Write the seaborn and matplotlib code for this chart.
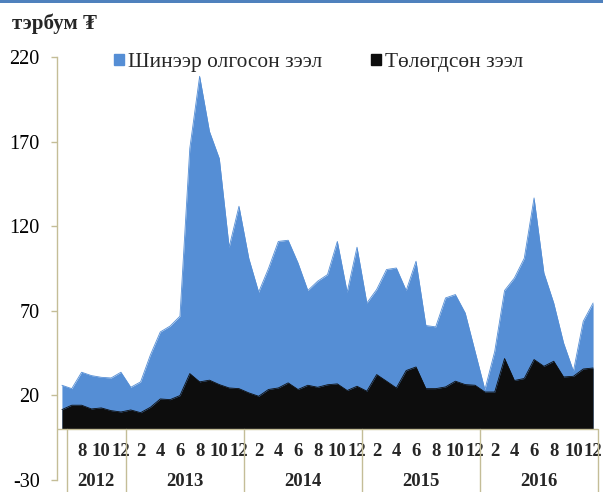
import pandas as pd
import matplotlib
matplotlib.use('Agg')
import matplotlib.pyplot as plt
from matplotlib.patches import Patch, Rectangle
import seaborn as sns

# monthly data, 2012-06 .. 2016-12 (billion MNT)
months = pd.date_range('2012-06-01', periods=55, freq='MS')
new_loans = [26, 24, 33.7, 31.7, 30.7, 30.3, 33.7, 24.8, 28, 44, 57.5, 61, 66.8,
             166, 208.6, 176, 160, 107.6, 131.8, 101, 81, 95, 111, 111.7, 98.3,
             82, 87.5, 91.4, 111, 81, 107.6, 74.6, 82.6, 94.4, 95.3, 82, 99.3,
             61.3, 60.5, 77.6, 79.6, 68.7, 46, 23.4, 46, 82, 89.4, 101, 136.7,
             92.4, 74.6, 51, 34.3, 63.8, 74.6]
repaid = [11.6, 14.2, 14.2, 12, 12.6, 11, 10.2, 11.4, 9.8, 13, 17.9, 17.5, 19.9,
          32.9, 28, 29, 26.4, 24.4, 24, 21.5, 19.5, 23.5, 24.4, 27.4, 23.5, 26,
          24.8, 26.3, 26.8, 22.9, 25.4, 22.5, 32.3, 28.4, 24.4, 34.7, 36.8, 24,
          24, 25, 28.4, 26.4, 26, 22, 22, 41.8, 28.8, 30, 41.2, 37.2, 40.2, 30.9,
          31.3, 35.6, 36.2]
series_names = ['Шинээр олгосон зээл', 'Төлөгдсөн зээл']
y_ticks = [-30, 20, 70, 120, 170, 220]
years = ['2012', '2013', '2014', '2015', '2016']

blue = '#558ed5'
black = '#0d0d0d'
tan = '#c4bd97'

sns.set_theme(style='white')
plt.rcParams['font.family'] = ['Liberation Serif', 'DejaVu Serif']

df = pd.DataFrame({'i': range(len(months)), 'new': new_loans, 'repaid': repaid})

fig = plt.figure(figsize=(6.03, 4.92), dpi=100)
ax = fig.add_axes([57 / 603, 1 - 480 / 492, (598 - 57) / 603, (480 - 57) / 492])

ax.fill_between(df['i'], 0, df['new'], color=blue, lw=0)
sns.lineplot(data=df, x='i', y='new', ax=ax, color=blue, lw=0.6)
ax.fill_between(df['i'], 0, df['repaid'], color=black, lw=0)
sns.lineplot(data=df, x='i', y='repaid', ax=ax, color=black, lw=0.6)

ax.set_xlim(-0.5, len(months) - 0.5)
ax.set_ylim(-30, 220)
ax.set_xlabel('')
ax.set_ylabel('')
ax.set_xticks([])
ax.set_yticks(y_ticks)
ax.set_yticklabels([str(v) for v in y_ticks])
ax.tick_params(axis='y', left=True, length=4.5, width=1, color=tan,
               labelsize=14.5, pad=8, labelcolor='black')
for s in ['top', 'right', 'bottom']:
    ax.spines[s].set_visible(False)
ax.spines['left'].set_color(tan)
ax.spines['left'].set_linewidth(1)

# category axis at zero
ax.axhline(0, color=tan, lw=1, zorder=5)
year_starts = [i for i, d in enumerate(months) if d.month == 1]
seps = [0.5] + [s - 0.5 for s in year_starts] + [len(months) - 0.5]
for xs in seps:
    ax.plot([xs, xs], [0, -40], color=tan, lw=1, clip_on=False, zorder=5)

for i, d in enumerate(months):
    if i > 0 and d.month % 2 == 0:
        ax.text(i, -13, str(d.month), ha='center', va='center',
                fontsize=13.5, fontweight='bold', clip_on=False)
for k, yr in enumerate(years):
    ax.text((seps[k] + seps[k + 1]) / 2, -31, yr, ha='center', va='center',
            fontsize=13.5, fontweight='bold', clip_on=False)

handles = [Patch(color=blue, label=series_names[0]),
           Patch(color=black, label=series_names[1])]
ax.legend(handles=handles, loc='upper left', bbox_to_anchor=(114 / 603, 1 - 53 / 492),
          bbox_transform=fig.transFigure, ncol=2, frameon=False, fontsize=15.4,
          handlelength=0.45, handleheight=0.45, handletextpad=0.2,
          columnspacing=2.3, borderpad=0, borderaxespad=0)

fig.text(12 / 603, 1 - 29 / 492, 'тэрбум ₮', fontsize=15, fontweight='bold',
         va='baseline')
fig.add_artist(Rectangle((0, 1 - 3 / 492), 1, 3 / 492, transform=fig.transFigure,
                         color='#4f81bd', lw=0))

fig.savefig('out.png', dpi=100)
